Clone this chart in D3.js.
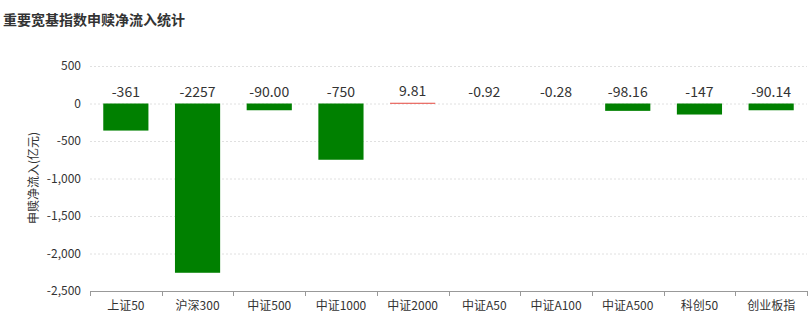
<!DOCTYPE html>
<html>
<head>
<meta charset="utf-8">
<script src="https://cdn.jsdelivr.net/npm/d3@7"></script>
<style>
  body { margin: 0; background: #fff; }
  text { font-family: "Noto Sans CJK SC", "Noto Sans", sans-serif; }
</style>
</head>
<body>
<svg id="drawing_region"></svg>
<script>
var categories = ['上证50', '沪深300', '中证500', '中证1000', '中证2000', '中证A50', '中证A100', '中证A500', '科创50', '创业板指'];
var values = [-361, -2257, -90.00, -750, 9.81, -0.92, -0.28, -98.16, -147, -90.14];
var yticks = [500, 0, -500, -1000, -1500, -2000, -2500];

var config = {
    width: 810,
    height: 336,
    margin: {top: 66, right: 3, bottom: 45, left: 90}
};

var svg = d3.select('#drawing_region')
    .attr('width', config.width)
    .attr('height', config.height);

var inner_width = config.width - config.margin.left - config.margin.right;
var inner_height = config.height - config.margin.top - config.margin.bottom;

var chart = svg.append('g')
    .attr('transform', `translate(${config.margin.left}, ${config.margin.top})`);

var xscale = d3.scaleBand()
    .domain(categories)
    .range([0, inner_width]);

var yscale = d3.scaleLinear()
    .domain([-2500, 500])
    .range([inner_height, 0]);

// ints for |v| >= 100, two decimals otherwise
var fmt = v => Math.abs(v) >= 100 ? String(Math.round(v)) : v.toFixed(2);

// title
svg.append('text')
    .attr('x', 3)
    .attr('y', 25)
    .attr('font-size', 14)
    .attr('font-weight', 'bold')
    .attr('fill', '#333')
    .text('重要宽基指数申赎净流入统计');

// grid lines
chart.selectAll('.grid').data(yticks.filter(d => d !== -2500)).join('line')
    .attr('class', 'grid')
    .attr('x1', 0)
    .attr('x2', inner_width)
    .attr('y1', d => yscale(d) + 0.5)
    .attr('y2', d => yscale(d) + 0.5)
    .attr('stroke', '#e0e0e0')
    .attr('stroke-dasharray', '2,2');

// y labels
chart.selectAll('.ylabel').data(yticks).join('text')
    .attr('class', 'ylabel')
    .attr('x', -9)
    .attr('y', d => yscale(d))
    .attr('dy', '0.35em')
    .attr('text-anchor', 'end')
    .attr('font-size', 12)
    .attr('fill', '#333')
    .text(d => d3.format(',')(d).replace('−', '-'));

// y axis name
svg.append('text')
    .attr('transform', `translate(38, 178) rotate(-90)`)
    .attr('text-anchor', 'middle')
    .attr('font-size', 12)
    .attr('fill', '#333')
    .text('申赎净流入(亿元)');

// bars
var bw = xscale.bandwidth() * 0.63;
chart.selectAll('rect').data(values).join('rect')
    .attr('x', (d, i) => xscale(categories[i]) + (xscale.bandwidth() - bw) / 2)
    .attr('y', d => yscale(Math.max(0, d)))
    .attr('width', bw)
    .attr('height', d => Math.max(Math.abs(yscale(d) - yscale(0)), 1))
    .attr('fill', d => d >= 0 ? '#e5483f' : '#008000')
    .attr('opacity', d => d >= 0 || Math.abs(yscale(d) - yscale(0)) >= 0.5 ? 1 : 0);

// value labels
chart.selectAll('.vlabel').data(values).join('text')
    .attr('class', 'vlabel')
    .attr('x', (d, i) => xscale(categories[i]) + xscale.bandwidth() / 2)
    .attr('y', d => yscale(Math.max(0, d)) - 7)
    .attr('text-anchor', 'middle')
    .attr('font-size', 14)
    .attr('fill', '#333')
    .text(d => fmt(d));

// x axis
var xaxis = d3.axisBottom(xscale).tickSize(0).tickPadding(10);
var xg = chart.append('g')
    .attr('transform', `translate(0, ${inner_height})`)
    .call(xaxis);
xg.select('.domain').attr('stroke', '#999');
xg.selectAll('text')
    .attr('font-size', 12)
    .attr('fill', '#333')
    .attr('font-family', '"Noto Sans CJK SC", sans-serif');
chart.selectAll('.xtick').data(d3.range(categories.length + 1)).join('line')
    .attr('class', 'xtick')
    .attr('x1', i => Math.round(i * xscale.step()) + 0.5)
    .attr('x2', i => Math.round(i * xscale.step()) + 0.5)
    .attr('y1', inner_height)
    .attr('y2', inner_height + 5)
    .attr('stroke', '#999');
</script>
</body>
</html>
